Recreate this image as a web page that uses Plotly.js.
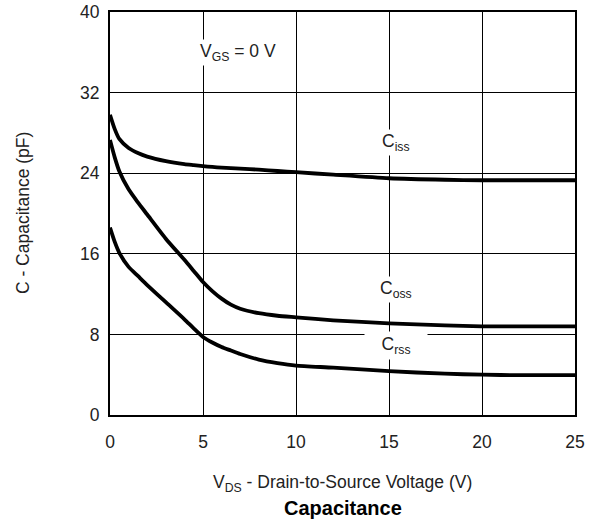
<!DOCTYPE html>
<html>
<head>
<meta charset="utf-8">
<script src="https://cdn.plot.ly/plotly-3.0.1.min.js"></script>
<style>html,body{margin:0;padding:0;background:#fff;}#chart{width:598px;height:523px;}</style>
</head>
<body>
<div id="chart"></div>
<script>
var vds  = [0, 0.25, 0.5, 1, 1.5, 2, 3, 4, 4.5, 5, 5.5, 6, 6.5, 7, 8, 9, 10, 12, 15, 18, 20, 22, 25];
var ciss = [29.8, 28.4, 27.4, 26.5, 26.0, 25.65, 25.2, 24.9, 24.8, 24.7, 24.62, 24.55, 24.5, 24.45, 24.35, 24.22, 24.1, 23.85, 23.5, 23.35, 23.3, 23.3, 23.3];
var coss = [27.3, 25.6, 24.2, 22.4, 21.1, 19.9, 17.5, 15.4, 14.3, 13.2, 12.3, 11.55, 10.95, 10.55, 10.1, 9.85, 9.7, 9.4, 9.1, 8.9, 8.8, 8.8, 8.8];
var crss = [18.6, 17.2, 16.1, 14.7, 13.8, 12.9, 11.2, 9.5, 8.6, 7.75, 7.2, 6.75, 6.4, 6.05, 5.5, 5.15, 4.9, 4.7, 4.35, 4.1, 4.0, 3.95, 3.95];
var xTicks = [0, 5, 10, 15, 20, 25];
var yTicks = [0, 8, 16, 24, 32, 40];

var font = 'Liberation Sans, Arial, Helvetica, sans-serif';
var fs = 17.5;
function tr(y) {
  return {x: vds, y: y, mode: 'lines', line: {color: '#000', width: 3.8, shape: 'spline', smoothing: 0.6}, hoverinfo: 'none'};
}
function axis(ticks, range, standoff) {
  return {range: range, tickvals: ticks, ticktext: ticks.map(String), showgrid: true, gridcolor: '#000', gridwidth: 1,
          zeroline: false, showline: true, linecolor: '#000', linewidth: 2, mirror: true, ticks: '', ticklen: 0,
          ticklabelstandoff: standoff, tickfont: {size: fs, family: font, color: '#222'}, fixedrange: true};
}
var layout = {
  width: 598, height: 523,
  margin: {l: 110, r: 23, t: 12, b: 108},
  paper_bgcolor: '#fff', plot_bgcolor: '#fff',
  showlegend: false,
  font: {family: font, size: fs, color: '#222'},
  xaxis: axis(xTicks, [0, 25], 10),
  yaxis: axis(yTicks, [0, 40], 5),
  annotations: [
    {xref: 'x', yref: 'y', x: 6.9, y: 36, text: 'V<sub>GS</sub> = 0 V', showarrow: false, bgcolor: '#fff', font: {size: fs, family: font, color: '#222'}},
    {xref: 'x', yref: 'y', x: 15.4, y: 27.0, text: 'C<sub>iss</sub>', showarrow: false, bgcolor: '#fff', font: {size: fs, family: font, color: '#222'}},
    {xref: 'x', yref: 'y', x: 15.4, y: 12.5, text: 'C<sub>oss</sub>', showarrow: false, bgcolor: '#fff', font: {size: fs, family: font, color: '#222'}},
    {xref: 'x', yref: 'y', x: 15.4, y: 6.9, text: '&nbsp;&nbsp;&nbsp;C<sub>rss</sub>&nbsp;&nbsp;&nbsp;', showarrow: false, bgcolor: '#fff', borderpad: 2, font: {size: fs, family: font, color: '#222'}},
    {xref: 'paper', yref: 'paper', x: 0.5, y: -0.17, yanchor: 'middle', text: 'V<sub>DS</sub> - Drain-to-Source Voltage (V)', showarrow: false, font: {size: fs, family: font, color: '#222'}},
    {xref: 'paper', yref: 'paper', x: 0.5, y: -0.231, yanchor: 'middle', text: '<b>Capacitance</b>', showarrow: false, font: {size: 20, family: font, color: '#000'}},
    {xref: 'paper', yref: 'paper', x: -0.188, y: 0.5, xanchor: 'center', text: 'C - Capacitance (pF)', textangle: -90, showarrow: false, font: {size: fs, family: font, color: '#222'}}
  ]
};
Plotly.newPlot('chart', [tr(ciss), tr(coss), tr(crss)], layout, {displayModeBar: false, staticPlot: true});
</script>
</body>
</html>
